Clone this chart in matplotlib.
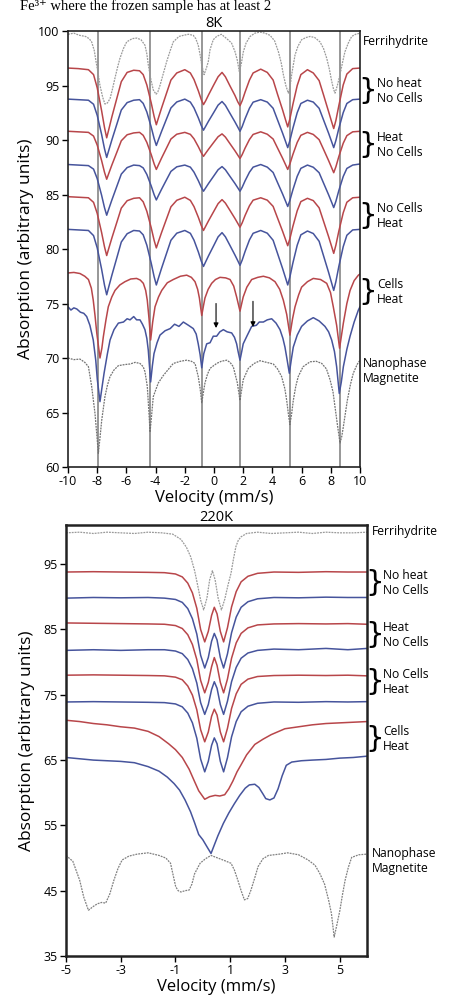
import matplotlib
matplotlib.use("Agg")
import matplotlib.pyplot as plt
from matplotlib.transforms import blended_transform_factory

plt.rcParams['font.family'] = ['Open Sans', 'DejaVu Sans']
plt.rcParams['axes.unicode_minus'] = False

# ---------------- 8K panel ----------------
# shared velocity grid for the six regular sextets
v8 = [-10.0, -9.3, -8.6, -8.25, -8.0, -7.7, -7.5, -7.35, -7.2, -7.0,
      -6.65, -6.35, -5.95, -5.5, -5.1, -4.85, -4.6, -4.3, -4.1, -3.95,
      -3.8, -3.6, -3.25, -2.95, -2.55, -2.0, -1.62, -1.37, -1.07, -0.87,
      -0.72, -0.57, -0.37, -0.02, 0.28, 0.55, 0.78, 1.08, 1.43, 1.63,
      1.78, 1.93, 2.13, 2.43, 2.68, 3.2, 3.65, 4.05, 4.35, 4.7,
      4.9, 5.05, 5.2, 5.4, 5.7, 5.95, 6.4, 6.8, 7.2, 7.5,
      7.85, 8.05, 8.2, 8.35, 8.55, 8.85, 9.1, 9.5, 10.0]

noheat_nocells_red_8k = [
    96.6, 96.55, 96.45, 96.0, 94.8, 92.7, 91.15, 90.2, 91.0, 92.1,
    93.85, 95.35, 96.2, 96.4, 96.35, 96.0, 95.05, 93.4, 92.15, 91.4,
    92.05, 92.9, 94.3, 95.5, 96.15, 96.45, 96.15, 95.55, 94.5, 93.7,
    93.25, 93.6, 94.15, 95.05, 95.8, 96.2, 95.8, 95.0, 94.1, 93.5,
    93.15, 93.6, 94.4, 95.5, 96.15, 96.5, 96.2, 95.5, 94.2, 92.75,
    91.85, 91.2, 91.95, 93.25, 95.0, 96.0, 96.45, 96.15, 95.45, 94.15,
    92.6, 91.7, 91.05, 91.8, 93.15, 95.05, 96.05, 96.55, 96.6]
noheat_nocells_blue_8k = [
    93.75, 93.7, 93.65, 93.28, 92.27, 90.52, 89.2, 88.4, 89.09, 89.99,
    91.47, 92.75, 93.43, 93.65, 93.7, 93.36, 92.57, 91.18, 90.13, 89.5,
    90.05, 90.76, 91.94, 92.94, 93.49, 93.75, 93.48, 92.94, 92.02, 91.32,
    90.9, 91.26, 91.74, 92.52, 93.2, 93.53, 93.18, 92.48, 91.67, 91.18,
    90.8, 91.23, 91.96, 92.92, 93.47, 93.7, 93.48, 92.91, 91.85, 90.62,
    89.87, 89.3, 89.96, 91.06, 92.51, 93.35, 93.65, 93.48, 92.91, 91.85,
    90.62, 89.87, 89.3, 89.96, 91.06, 92.51, 93.35, 93.7, 93.75]
heat_nocells_red_8k = [
    90.8, 90.75, 90.7, 90.36, 89.54, 88.12, 87.04, 86.4, 86.96, 87.69,
    88.89, 89.93, 90.48, 90.65, 90.7, 90.43, 89.78, 88.66, 87.81, 87.3,
    87.74, 88.32, 89.27, 90.09, 90.53, 90.7, 90.52, 90.11, 89.38, 88.83,
    88.5, 88.79, 89.16, 89.78, 90.3, 90.56, 90.27, 89.69, 89.02, 88.61,
    88.3, 88.66, 89.26, 90.05, 90.51, 90.75, 90.53, 90.09, 89.27, 88.32,
    87.74, 87.3, 87.81, 88.66, 89.78, 90.43, 90.7, 90.51, 90.03, 89.15,
    88.11, 87.48, 87.0, 87.55, 88.48, 89.7, 90.4, 90.75, 90.8]
heat_nocells_blue_8k = [
    87.75, 87.7, 87.65, 87.33, 86.46, 84.94, 83.79, 83.1, 83.7, 84.48,
    85.77, 86.87, 87.47, 87.7, 87.65, 87.44, 86.84, 85.78, 84.98, 84.5,
    84.92, 85.46, 86.36, 87.12, 87.54, 87.7, 87.51, 87.05, 86.26, 85.66,
    85.3, 85.61, 86.02, 86.69, 87.27, 87.56, 87.27, 86.69, 86.02, 85.61,
    85.3, 85.66, 86.26, 87.05, 87.51, 87.75, 87.51, 87.02, 86.1, 85.04,
    84.39, 83.9, 84.47, 85.42, 86.67, 87.4, 87.7, 87.5, 87.0, 86.06,
    84.97, 84.31, 83.8, 84.38, 85.36, 86.65, 87.39, 87.7, 87.8]
nocells_heat_red_8k = [
    84.8, 84.75, 84.7, 84.28, 83.27, 81.52, 80.2, 79.4, 80.09, 80.99,
    82.47, 83.75, 84.43, 84.65, 84.7, 84.33, 83.46, 81.94, 80.79, 80.1,
    80.7, 81.48, 82.77, 83.87, 84.47, 84.75, 84.46, 83.89, 82.9, 82.15,
    81.7, 82.09, 82.6, 83.44, 84.16, 84.53, 84.21, 83.57, 82.81, 82.35,
    82.0, 82.4, 83.08, 83.97, 84.48, 84.7, 84.48, 83.91, 82.85, 81.62,
    80.87, 80.3, 80.96, 82.06, 83.51, 84.35, 84.65, 84.44, 83.78, 82.56,
    81.13, 80.26, 79.6, 80.36, 81.64, 83.32, 84.29, 84.7, 84.75]
nocells_heat_blue_8k = [
    81.8, 81.75, 81.7, 81.23, 80.11, 78.16, 76.68, 75.8, 76.57, 77.57,
    79.22, 80.64, 81.4, 81.7, 81.65, 81.3, 80.35, 78.7, 77.45, 76.7,
    77.35, 78.2, 79.6, 80.8, 81.45, 81.7, 81.44, 80.81, 79.72, 78.89,
    78.4, 78.83, 79.39, 80.31, 81.11, 81.5, 81.12, 80.36, 79.46, 78.92,
    78.5, 78.98, 79.78, 80.84, 81.44, 81.7, 81.45, 80.8, 79.6, 78.2,
    77.35, 76.7, 77.45, 78.7, 80.35, 81.3, 81.65, 81.42, 80.71, 79.39,
    77.85, 76.91, 76.2, 77.02, 78.4, 80.21, 81.26, 81.75, 81.8]

# (velocity, absorption) pairs for the irregular spectra
ferrihydrite_8k = [
    (-10.0, 99.7), (-9.6, 99.8), (-9.2, 99.6), (-8.8, 99.5), (-8.55, 99.3),
    (-8.38, 99.0), (-8.2, 98.2), (-8.08, 97.2), (-7.95, 96.2), (-7.81, 95.0),
    (-7.62, 93.9), (-7.47, 93.3), (-7.3, 93.4), (-7.12, 93.8), (-6.95, 94.7),
    (-6.78, 95.7), (-6.6, 96.7), (-6.44, 97.5), (-6.2, 98.4), (-5.98, 99.0),
    (-5.6, 99.3), (-5.29, 99.35), (-5.0, 99.2), (-4.73, 98.7), (-4.6, 97.9),
    (-4.5, 96.9), (-4.33, 95.6), (-4.16, 94.6), (-3.97, 94.2), (-3.85, 94.4),
    (-3.7, 95.0), (-3.45, 96.2), (-3.24, 97.2), (-3.0, 98.2), (-2.79, 99.0),
    (-2.4, 99.5), (-2.1, 99.6), (-1.75, 99.7), (-1.42, 99.6), (-1.25, 99.3),
    (-1.08, 98.7), (-0.95, 97.8), (-0.84, 96.9), (-0.68, 96.0), (-0.52, 96.6),
    (-0.39, 97.2), (-0.27, 98.3), (-0.05, 99.2), (0.18, 99.5), (0.5, 99.7),
    (0.87, 99.3), (1.2, 98.9), (1.44, 98.1), (1.6, 97.3), (1.73, 96.3),
    (1.87, 97.0), (2.01, 98.1), (2.2, 98.9), (2.47, 99.5), (2.8, 99.8),
    (3.15, 99.9), (3.5, 99.8), (3.84, 99.6), (4.15, 99.1), (4.41, 98.1),
    (4.6, 97.1), (4.75, 96.0), (4.92, 95.0), (5.09, 94.3), (5.2, 94.8),
    (5.32, 96.0), (5.55, 97.8), (5.75, 98.6), (6.0, 99.2), (6.3, 99.4),
    (6.58, 99.5), (6.9, 99.4), (7.26, 99.0), (7.5, 98.4), (7.72, 97.5),
    (7.9, 96.5), (8.06, 95.4), (8.18, 94.7), (8.29, 94.3), (8.45, 95.0),
    (8.63, 96.0), (8.8, 97.1), (8.97, 98.1), (9.2, 98.9), (9.43, 99.5),
    (9.7, 99.7), (10.0, 99.8)]

cells_heat_red_8k = [
    (-10.0, 77.8), (-9.6, 77.85), (-9.18, 77.75), (-8.85, 77.5), (-8.6, 77.2),
    (-8.4, 76.4), (-8.27, 75.3), (-8.15, 73.9), (-8.03, 72.3), (-7.81, 70.0),
    (-7.68, 70.9), (-7.58, 71.95), (-7.4, 73.5), (-7.24, 74.7), (-7.0, 75.6),
    (-6.78, 76.2), (-6.45, 76.7), (-6.1, 77.0), (-5.7, 77.25), (-5.3, 77.3),
    (-5.05, 77.15), (-4.84, 76.85), (-4.68, 76.2), (-4.57, 75.3), (-4.45, 73.6),
    (-4.34, 71.65), (-4.2, 73.3), (-4.04, 74.7), (-3.8, 75.6), (-3.58, 76.2),
    (-3.2, 76.9), (-2.79, 77.2), (-2.3, 77.5), (-1.87, 77.6), (-1.55, 77.4),
    (-1.3, 77.0), (-1.12, 76.3), (-1.0, 75.5), (-0.84, 73.9), (-0.72, 74.8),
    (-0.62, 75.5), (-0.4, 76.3), (-0.16, 76.85), (0.1, 77.2), (0.41, 77.4),
    (0.8, 77.35), (1.1, 77.2), (1.35, 76.6), (1.55, 75.6), (1.78, 74.3),
    (2.0, 75.6), (2.25, 76.5), (2.58, 77.2), (3.0, 77.4), (3.38, 77.5),
    (3.8, 77.35), (4.18, 77.0), (4.5, 76.3), (4.75, 75.3), (4.98, 74.0),
    (5.2, 72.1), (5.38, 73.6), (5.55, 74.7), (5.8, 75.8), (6.0, 76.5),
    (6.4, 77.0), (6.8, 77.3), (7.3, 77.2), (7.72, 76.85), (7.98, 76.0),
    (8.17, 74.7), (8.4, 73.0), (8.6, 70.9), (8.86, 73.2), (9.1, 75.0),
    (9.32, 76.2), (9.6, 77.1), (9.89, 77.6), (10.0, 77.7)]

cells_heat_blue_8k = [
    (-10.0, 74.7), (-9.8, 74.4), (-9.6, 74.6), (-9.4, 74.5), (-9.15, 74.2),
    (-8.92, 74.1), (-8.72, 73.8), (-8.5, 73.0), (-8.27, 71.65), (-8.1, 69.8),
    (-7.99, 68.0), (-7.81, 66.0), (-7.65, 67.5), (-7.53, 68.6), (-7.3, 70.4),
    (-7.12, 71.65), (-6.85, 72.6), (-6.55, 73.2), (-6.2, 73.3), (-5.95, 73.6),
    (-5.75, 73.5), (-5.5, 73.8), (-5.3, 73.5), (-5.07, 73.5), (-4.9, 73.1),
    (-4.73, 72.6), (-4.6, 71.8), (-4.5, 70.7), (-4.34, 67.8), (-4.22, 69.3),
    (-4.11, 70.4), (-3.9, 71.4), (-3.7, 72.1), (-3.35, 72.5), (-3.0, 72.7),
    (-2.7, 73.1), (-2.4, 72.9), (-2.1, 73.3), (-1.75, 73.0), (-1.42, 72.7),
    (-1.22, 72.2), (-1.08, 71.3), (-0.95, 70.3), (-0.84, 69.1), (-0.7, 70.4),
    (-0.5, 71.3), (-0.27, 71.4), (-0.05, 72.0), (0.18, 72.0), (0.4, 72.4),
    (0.64, 72.6), (0.9, 72.4), (1.21, 72.3), (1.4, 71.9), (1.55, 71.3),
    (1.65, 70.6), (1.78, 69.8), (1.9, 70.6), (2.0, 71.3), (2.25, 72.0),
    (2.58, 72.9), (2.9, 73.0), (3.1, 73.3), (3.38, 73.3), (3.65, 73.5),
    (3.95, 73.6), (4.25, 73.2), (4.52, 72.6), (4.72, 71.8), (4.86, 71.0),
    (5.0, 69.9), (5.16, 68.6), (5.3, 69.9), (5.43, 71.0), (5.7, 72.1),
    (6.0, 72.9), (6.4, 73.4), (6.8, 73.7), (7.2, 73.4), (7.6, 72.9),
    (7.85, 72.4), (8.06, 71.65), (8.25, 70.6), (8.4, 69.2), (8.58, 66.75),
    (8.72, 67.8), (8.86, 69.2), (9.1, 70.8), (9.32, 72.0), (9.6, 73.3),
    (9.89, 74.4), (10.0, 74.7)]

magnetite_8k = [
    (-10.0, 70.0), (-9.6, 69.85), (-9.18, 69.9), (-8.85, 69.6), (-8.6, 69.2),
    (-8.38, 67.4), (-8.15, 64.9), (-8.03, 63.0), (-7.92, 61.25), (-7.8, 62.8),
    (-7.69, 64.3), (-7.47, 66.45), (-7.3, 67.5), (-7.12, 68.3), (-6.85, 68.9),
    (-6.55, 69.3), (-6.1, 69.4), (-5.75, 69.45), (-5.4, 69.6), (-5.07, 69.5),
    (-4.85, 69.2), (-4.73, 68.75), (-4.57, 67.4), (-4.47, 65.3), (-4.38, 63.2),
    (-4.27, 64.8), (-4.16, 66.45), (-3.82, 67.7), (-3.47, 68.4), (-3.1, 69.0),
    (-2.79, 69.5), (-2.3, 69.7), (-1.87, 69.8), (-1.55, 69.7), (-1.3, 69.5),
    (-1.08, 68.3), (-0.95, 67.2), (-0.84, 65.9), (-0.73, 66.8), (-0.62, 67.7),
    (-0.45, 68.5), (-0.27, 69.05), (0.18, 69.5), (0.5, 69.7), (0.87, 69.8),
    (1.1, 69.6), (1.32, 69.2), (1.6, 67.7), (1.78, 66.1), (2.0, 68.0),
    (2.35, 69.05), (2.75, 69.5), (3.15, 69.75), (3.6, 69.6), (4.06, 69.45),
    (4.35, 69.0), (4.63, 68.3), (4.85, 67.2), (4.98, 66.1), (5.1, 64.8),
    (5.2, 63.9), (5.32, 64.9), (5.43, 66.1), (5.6, 67.4), (5.77, 68.3),
    (6.1, 69.2), (6.58, 69.65), (7.0, 69.7), (7.38, 69.5), (7.7, 69.0),
    (7.95, 68.0), (8.15, 66.9), (8.29, 65.5), (8.45, 63.9), (8.63, 62.2),
    (8.75, 62.8), (8.86, 63.7), (9.13, 66.1), (9.35, 67.6), (9.54, 68.6),
    (9.8, 69.4), (10.0, 69.8)]

magnetite_lines_8k = [-7.92, -4.38, -0.84, 1.78, 5.2, 8.63]
arrows_8k = [(0.14, 75.0, 72.75), (2.67, 75.2, 72.85)]

# ---------------- 220K panel ----------------
v220 = [-5.0, -4.0, -3.0, -2.0, -1.4, -1.0, -0.75, -0.55, -0.38, -0.22,
        -0.08, 0.07, 0.2, 0.32, 0.42, 0.52, 0.64, 0.76, 0.9, 1.05,
        1.22, 1.4, 1.65, 2.0, 2.6, 3.5, 4.5, 5.3, 6.0]

noheat_nocells_red_220k = [
    93.8, 93.85, 93.8, 93.75, 93.7, 93.5, 93.05, 92.1, 90.6, 88.25,
    85.0, 83.1, 84.7, 87.15, 88.4, 87.4, 84.7, 83.1, 85.25, 88.45,
    90.8, 92.3, 93.15, 93.6, 93.8, 93.75, 93.85, 93.8, 93.8]
noheat_nocells_blue_220k = [
    89.8, 89.9, 89.85, 89.9, 89.8, 89.6, 89.15, 88.2, 86.65, 84.3,
    81.05, 79.1, 80.7, 83.2, 84.4, 83.4, 80.7, 79.1, 81.25, 84.5,
    86.9, 88.4, 89.25, 89.7, 89.9, 89.85, 89.95, 89.9, 89.9]
heat_nocells_red_220k = [
    86.0, 85.95, 85.9, 85.85, 85.8, 85.6, 85.15, 84.2, 82.7, 80.4,
    77.2, 75.3, 76.9, 79.3, 80.7, 79.5, 76.9, 75.3, 77.4, 80.6,
    82.95, 84.4, 85.25, 85.7, 85.85, 85.9, 85.85, 85.9, 85.8]
heat_nocells_blue_220k = [
    81.8, 81.9, 81.8, 81.9, 81.9, 81.7, 81.3, 80.4, 79.0, 76.8,
    73.8, 72.0, 73.5, 75.8, 77.0, 76.0, 73.5, 72.0, 74.0, 77.0,
    79.2, 80.6, 81.4, 81.8, 82.0, 81.9, 82.1, 81.9, 82.1]
nocells_heat_red_220k = [
    78.0, 78.05, 78.0, 77.95, 77.9, 77.7, 77.3, 76.35, 74.95, 72.7,
    69.65, 67.8, 69.3, 71.7, 72.8, 71.9, 69.3, 67.8, 69.85, 72.9,
    75.15, 76.6, 77.4, 77.8, 77.95, 78.0, 77.95, 78.0, 77.9]
nocells_heat_blue_220k = [
    73.9, 73.95, 73.9, 73.85, 73.8, 73.6, 73.15, 72.2, 70.7, 68.35,
    65.15, 63.2, 64.8, 67.25, 68.4, 67.5, 64.8, 63.2, 65.35, 68.55,
    70.9, 72.4, 73.25, 73.7, 73.9, 73.85, 73.95, 73.9, 73.95]

ferrihydrite_220k = [
    (-5.0, 99.8), (-4.5, 99.9), (-4.0, 99.7), (-3.5, 99.9), (-3.0, 99.8),
    (-2.5, 99.7), (-2.0, 99.9), (-1.5, 99.8), (-1.1, 99.6), (-0.8, 98.8),
    (-0.6, 97.6), (-0.44, 96.1), (-0.3, 94.0), (-0.2, 92.0), (-0.08, 89.5),
    (0.03, 88.0), (0.15, 89.8), (0.25, 92.6), (0.35, 94.0), (0.45, 92.6),
    (0.56, 89.8), (0.68, 88.0), (0.8, 89.6), (0.92, 91.8), (1.03, 93.6),
    (1.12, 95.8), (1.21, 97.7), (1.3, 98.7), (1.4, 99.2), (1.6, 99.7),
    (2.0, 99.9), (2.5, 99.7), (3.0, 99.8), (3.5, 99.9), (4.0, 99.7),
    (4.5, 99.9), (5.0, 99.8), (5.5, 99.8), (6.0, 99.9)]

cells_heat_red_220k = [
    (-5.0, 71.1), (-4.5, 70.9), (-4.0, 70.6), (-3.5, 70.4), (-3.0, 70.1),
    (-2.5, 69.9), (-2.0, 69.4), (-1.6, 68.6), (-1.25, 67.5), (-1.0, 66.6),
    (-0.75, 65.4), (-0.5, 63.6), (-0.3, 61.7), (-0.15, 60.3), (0.07, 59.0),
    (0.25, 59.4), (0.45, 59.6), (0.62, 59.5), (0.8, 59.7), (0.95, 60.6),
    (1.1, 61.8), (1.25, 63.2), (1.4, 64.3), (1.6, 65.8), (1.9, 67.4),
    (2.2, 68.2), (2.5, 68.9), (3.0, 69.8), (3.5, 70.1), (4.0, 70.4),
    (4.5, 70.6), (5.0, 70.7), (5.5, 70.8), (6.0, 70.9)]

cells_heat_blue_220k = [
    (-5.0, 65.4), (-4.5, 65.2), (-4.0, 65.0), (-3.5, 64.9), (-3.0, 64.8),
    (-2.5, 64.6), (-2.0, 64.0), (-1.6, 63.3), (-1.3, 62.4), (-1.05, 61.4),
    (-0.85, 60.4), (-0.65, 58.9), (-0.45, 57.1), (-0.3, 55.4), (-0.15, 53.6),
    (0.0, 52.8), (0.17, 51.6), (0.3, 50.7), (0.42, 52.0), (0.55, 53.4),
    (0.75, 55.3), (0.95, 56.9), (1.15, 58.3), (1.35, 59.6), (1.55, 60.7),
    (1.7, 61.2), (1.9, 61.3), (2.05, 60.8), (2.2, 59.8), (2.3, 59.1),
    (2.45, 58.9), (2.6, 59.2), (2.75, 60.6), (2.9, 62.6), (3.05, 64.2),
    (3.25, 64.7), (3.6, 64.9), (4.0, 65.0), (4.5, 65.1), (5.0, 65.3),
    (5.5, 65.4), (6.0, 65.6)]

magnetite_220k = [
    (-5.0, 50.4), (-4.75, 49.5), (-4.5, 46.6), (-4.35, 44.0), (-4.18, 42.0),
    (-4.0, 42.6), (-3.85, 43.0), (-3.7, 43.2), (-3.55, 43.1), (-3.4, 44.5),
    (-3.25, 46.6), (-3.1, 48.4), (-2.95, 49.7), (-2.7, 50.3), (-2.4, 50.6),
    (-2.0, 50.8), (-1.6, 50.4), (-1.35, 50.0), (-1.18, 49.2), (-1.08, 47.3),
    (-0.99, 45.6), (-0.9, 45.0), (-0.8, 44.8), (-0.65, 45.0), (-0.5, 45.1),
    (-0.4, 46.0), (-0.3, 47.6), (-0.1, 49.2), (0.1, 49.9), (0.3, 50.4),
    (0.55, 50.0), (0.8, 49.6), (1.03, 49.2), (1.15, 48.2), (1.28, 46.6),
    (1.4, 45.0), (1.52, 43.6), (1.64, 43.8), (1.76, 45.1), (1.9, 47.0),
    (2.02, 48.7), (2.2, 49.9), (2.4, 50.4), (2.8, 50.6), (3.1, 50.8),
    (3.5, 50.5), (3.85, 49.7), (4.1, 48.9), (4.28, 47.6), (4.45, 46.0),
    (4.6, 43.5), (4.7, 41.5), (4.8, 37.9), (4.9, 39.8), (5.01, 42.0),
    (5.1, 44.3), (5.2, 46.6), (5.32, 48.6), (5.44, 50.1), (5.7, 50.5),
    (6.0, 50.6)]

RED = '#b8464a'
BLUE = '#46549c'
LIGHT_GRAY = '#9a9a9a'
DARK_GRAY = '#727272'


def spectrum(ax, x, y, color, dotted=False):
    if dotted:
        ax.plot(x, y, color=color, lw=0.9, ls=(0, (1.5, 0.8)))
    else:
        ax.plot(x, y, color=color, lw=1.1)


def pairs(ax, data, color, dotted=False):
    xs, ys = zip(*data)
    spectrum(ax, xs, ys, color, dotted)


def side_labels(ax, items, x_text, x_brace, x_plain):
    tr = blended_transform_factory(ax.transAxes, ax.transData)
    for text, y, braced in items:
        if braced:
            ax.text(x_brace, y, '}', transform=tr, fontsize=21, va='center',
                    ha='center', family='DejaVu Sans', clip_on=False)
            ax.text(x_text, y, text, transform=tr, fontsize=8.7, va='center',
                    ha='left', linespacing=1.2, clip_on=False)
        else:
            ax.text(x_plain, y, text, transform=tr, fontsize=8.7, va='center',
                    ha='left', linespacing=1.2, clip_on=False)


def style(ax, lw):
    for s in ax.spines.values():
        s.set_linewidth(lw)
        s.set_color('#222222')
    ax.tick_params(direction='out', length=4, width=1.0, labelsize=9,
                   top=False, right=False, pad=2)


fig = plt.figure(figsize=(4.49, 9.96), dpi=100)
fig.text(20 / 449, 1 - 10 / 996, 'Fe\u00b3\u207a where the frozen sample has at least 2',
         family=['Liberation Serif', 'DejaVu Serif'], fontsize=10.5, va='baseline')

# top panel
ax1 = fig.add_axes([68 / 449, 1 - 467 / 996, 292 / 449, 436 / 996])
for xv in magnetite_lines_8k:
    ax1.axvline(xv, color='#7a7a7a', lw=1.1, zorder=1)
pairs(ax1, ferrihydrite_8k, LIGHT_GRAY, dotted=True)
spectrum(ax1, v8, noheat_nocells_red_8k, RED)
spectrum(ax1, v8, noheat_nocells_blue_8k, BLUE)
spectrum(ax1, v8, heat_nocells_red_8k, RED)
spectrum(ax1, v8, heat_nocells_blue_8k, BLUE)
spectrum(ax1, v8, nocells_heat_red_8k, RED)
spectrum(ax1, v8, nocells_heat_blue_8k, BLUE)
pairs(ax1, cells_heat_red_8k, RED)
pairs(ax1, cells_heat_blue_8k, BLUE)
pairs(ax1, magnetite_8k, DARK_GRAY, dotted=True)
for xa, y0, y1 in arrows_8k:
    ax1.annotate('', xy=(xa, y1), xytext=(xa, y0),
                 arrowprops=dict(arrowstyle='-|>', color='black', lw=0.8,
                                 mutation_scale=7, shrinkA=0, shrinkB=0))
ax1.set_xlim(-10, 10)
ax1.set_ylim(60, 100)
ax1.set_xticks(range(-10, 11, 2))
ax1.set_yticks(range(60, 101, 5))
style(ax1, 1.2)
ax1.set_title('8K', fontsize=10.5, pad=0)
ax1.set_xlabel('Velocity (mm/s)', fontsize=12, labelpad=1)
ax1.set_ylabel('Absorption (arbitrary units)', fontsize=12.5, labelpad=3)
side_labels(ax1, [('Ferrihydrite', 99.0, False),
                  ('No heat\nNo Cells', 94.5, True),
                  ('Heat\nNo Cells', 89.55, True),
                  ('No Cells\nHeat', 83.0, True),
                  ('Cells\nHeat', 76.05, True),
                  ('Nanophase\nMagnetite', 68.8, False)],
            1.058, 1.026, 1.010)

# bottom panel
ax2 = fig.add_axes([66 / 449, 1 - 956 / 996, 301 / 449, 431 / 996])
pairs(ax2, ferrihydrite_220k, LIGHT_GRAY, dotted=True)
spectrum(ax2, v220, noheat_nocells_red_220k, RED)
spectrum(ax2, v220, noheat_nocells_blue_220k, BLUE)
spectrum(ax2, v220, heat_nocells_red_220k, RED)
spectrum(ax2, v220, heat_nocells_blue_220k, BLUE)
spectrum(ax2, v220, nocells_heat_red_220k, RED)
spectrum(ax2, v220, nocells_heat_blue_220k, BLUE)
pairs(ax2, cells_heat_red_220k, RED)
pairs(ax2, cells_heat_blue_220k, BLUE)
pairs(ax2, magnetite_220k, '#808080', dotted=True)
ax2.set_xlim(-5, 6)
ax2.set_ylim(35, 101)
ax2.set_xticks([-5, -3, -1, 1, 3, 5])
ax2.set_yticks(range(35, 96, 10))
style(ax2, 1.8)
ax2.set_title('220K', fontsize=10.5, pad=2)
ax2.set_xlabel('Velocity (mm/s)', fontsize=12, labelpad=1)
ax2.set_ylabel('Absorption (arbitrary units)', fontsize=12.5, labelpad=6)
side_labels(ax2, [('Ferrihydrite', 99.95, False),
                  ('No heat\nNo Cells', 92.1, True),
                  ('Heat\nNo Cells', 84.2, True),
                  ('No Cells\nHeat', 77.0, True),
                  ('Cells\nHeat', 68.3, True),
                  ('Nanophase\nMagnetite', 49.5, False)],
            1.053, 1.025, 1.017)

fig.savefig('out.png', dpi=100)
